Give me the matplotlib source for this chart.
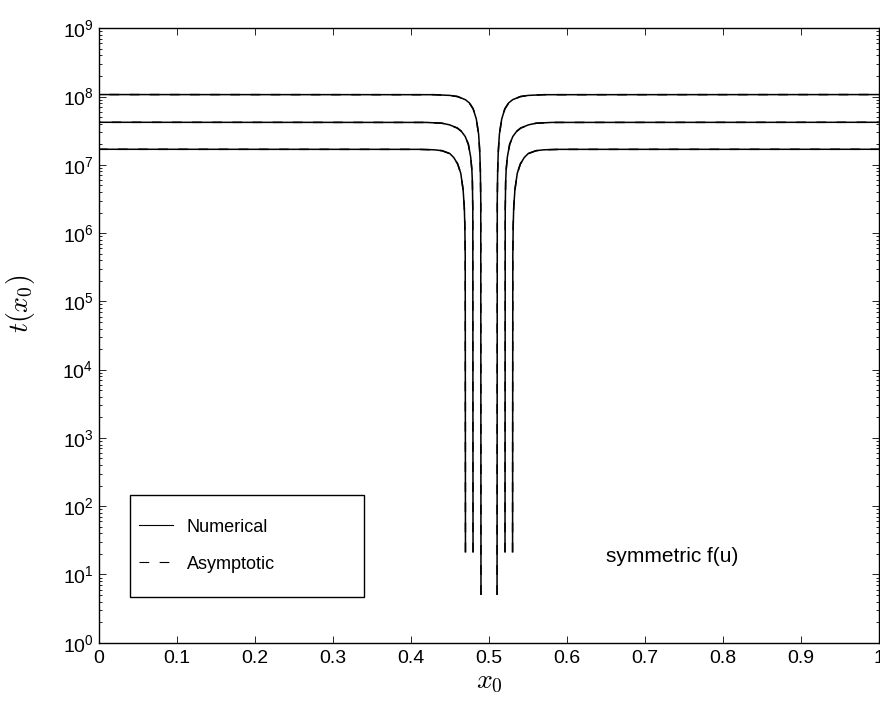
import matplotlib
matplotlib.use("Agg")
import matplotlib.pyplot as plt
from matplotlib.patches import Rectangle
from matplotlib.lines import Line2D
from matplotlib.ticker import LogLocator, FixedLocator, FixedFormatter, NullFormatter
import numpy as np

# ---- data ----
centre = 0.5
dip_offsets = [0.0103, 0.0205, 0.0302]          # half-width of each dip
dist = [0, 0.0003, 0.0008, 0.0015, 0.003, 0.006, 0.01, 0.015, 0.02, 0.03, 0.04, 0.06, 0.5]
t_top = [5, 3.2e6, 8.2e6, 1.5e7, 2.8e7, 4.7e7, 6.6e7, 8.1e7, 9.0e7, 1.0e8, 1.04e8, 1.065e8, 1.07e8]
t_mid = [21, 2.2e6, 5.5e6, 8.5e6, 1.3e7, 2.0e7, 2.6e7, 3.1e7, 3.45e7, 3.85e7, 4.07e7, 4.18e7, 4.2e7]
t_bot = [21, 4.5e5, 1.3e6, 2.4e6, 4.3e6, 7.5e6, 1.03e7, 1.28e7, 1.46e7, 1.61e7, 1.66e7, 1.685e7, 1.69e7]
curves = [t_top, t_mid, t_bot]

xticks = [0, 0.1, 0.2, 0.3, 0.4, 0.5, 0.6, 0.7, 0.8, 0.9, 1]
xticklabels = ['0', '0.1', '0.2', '0.3', '0.4', '0.5', '0.6', '0.7', '0.8', '0.9', '1']
yticks = [10.0**k for k in range(0, 10)]
yticklabels = [r'$\mathregular{10^{%d}}$' % k for k in range(0, 10)]

plt.rcParams['font.family'] = ['Liberation Sans', 'DejaVu Sans']
plt.rcParams['lines.scale_dashes'] = False

fig = plt.figure(figsize=(8.8, 7.04), dpi=100)
ax = fig.add_axes([0.1125, 0.0871, 0.8864, 0.8727])

d = np.array(dist)
for off, vals in zip(dip_offsets, curves):
    v = np.array(vals)
    xl = centre - off - d
    xr = centre + off + d
    for xs in (xl, xr):
        ax.plot(xs, v, color='black', lw=1.1, solid_capstyle='butt')
        ax.plot(xs, v, color='black', lw=1.1, linestyle=(0, (7, 7.5)))

ax.set_yscale('log')
ax.set_xlim(0, 1)
ax.set_ylim(1, 1e9)
ax.xaxis.set_major_locator(FixedLocator(xticks))
ax.xaxis.set_major_formatter(FixedFormatter(xticklabels))
ax.yaxis.set_major_locator(FixedLocator(yticks))
ax.yaxis.set_major_formatter(FixedFormatter(yticklabels))
ax.yaxis.set_minor_locator(LogLocator(base=10, subs=np.arange(2, 10), numticks=20))
ax.yaxis.set_minor_formatter(NullFormatter())
ax.tick_params(which='both', direction='in', top=True, right=True, labelsize=14, width=0.6)
ax.tick_params(which='major', length=5)
ax.tick_params(which='minor', length=2.5)
ax.tick_params(axis='x', pad=5)
ax.tick_params(axis='y', pad=4)
for s in ax.spines.values():
    s.set_linewidth(1.0)

ax.set_xlabel(r'$x_0$', fontsize=20, math_fontfamily='cm', labelpad=2)
ax.set_ylabel(r'$t(x_0)$', fontsize=20, math_fontfamily='cm')
ax.yaxis.set_label_coords(-0.080, 0.551)

ax.text(0.65, 18.5, 'symmetric f(u)', fontsize=15, va='center', ha='left')

# legend box (MATLAB style)
ax.add_patch(Rectangle((0.0397, 0.0744), 0.30, 0.166, transform=ax.transAxes,
                       facecolor='white', edgecolor='black', lw=1.0, zorder=5))
handles = [Line2D([], [], color='black', lw=0.8),
           Line2D([], [], color='black', lw=0.8, linestyle=(0, (7, 7.5)))]
leg = ax.legend(handles, ['Numerical', 'Asymptotic'], loc='center left',
                bbox_to_anchor=(0.0513, 0.158), frameon=False, fontsize=13,
                handlelength=1.9, handletextpad=0.75, labelspacing=1.1,
                borderpad=0, borderaxespad=0)
leg.set_zorder(6)

fig.savefig('out.png', dpi=100)
